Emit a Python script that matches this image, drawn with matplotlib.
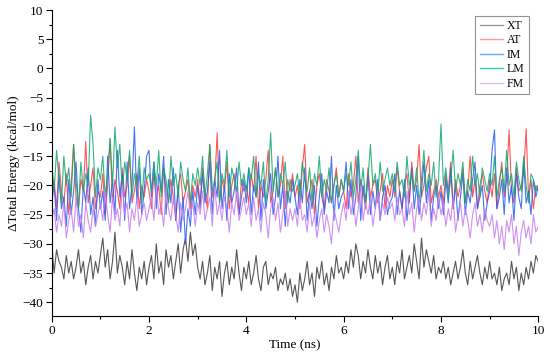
import numpy as np
import matplotlib
matplotlib.use("Agg")
import matplotlib.pyplot as plt
from matplotlib.ticker import MultipleLocator
from matplotlib.lines import Line2D

series_names = ["XT", "AT", "IM", "LM", "FM"]

XT = [-30, -35, -31, -33, -34, -36, -32, -35, -33, -36, -34, -31, -35, -33, -37, -34, -32, -36, -33, -35,
      -32, -29, -34, -31, -36, -33, -28, -35, -32, -34, -37, -33, -36, -31, -35, -38, -34, -36, -33, -37,
      -34, -32, -36, -30, -35, -33, -37, -31, -34, -32, -36, -33, -30, -35, -31, -29, -33, -28, -32, -30,
      -34, -36, -33, -37, -35, -32, -38, -34, -36, -33, -39, -35, -33, -37, -34, -36, -31, -35, -38, -34,
      -36, -33, -37, -35, -32, -36, -38, -34, -33, -37, -35, -36, -34, -38, -36, -37, -35, -38, -36, -39,
      -37, -40, -35, -38, -36, -33, -37, -35, -39, -34, -36, -33, -37, -35, -38, -34, -36, -32, -35, -34,
      -36, -33, -35, -31, -34, -30, -32, -36, -33, -35, -31, -34, -36, -32, -35, -33, -37, -34, -32, -36,
      -34, -37, -33, -35, -31, -36, -34, -32, -35, -30, -33, -36, -29, -34, -31, -33, -35, -32, -36, -34,
      -35, -33, -36, -34, -37, -35, -33, -36, -34, -31, -35, -37, -33, -36, -34, -32, -35, -37, -34, -36,
      -33, -36, -35, -37, -34, -38, -36, -35, -37, -33, -36, -34, -38, -35, -37, -34, -36, -33, -35, -32, -33]

AT = [-22, -19, -24, -16, -21, -23, -18, -25, -20, -13, -22, -24, -19, -21, -12.5, -23, -20, -17, -24, -21,
      -22, -18, -25, -20, -12, -23, -19, -21, -24, -17, -22, -20, -15, -23, -21, -18, -24, -20, -22, -19,
      -21, -24, -18, -22, -20, -25, -17, -21, -23, -19, -22, -26, -20, -18, -23, -21, -19, -24, -20, -22,
      -19, -23, -17, -21, -24, -13, -22, -20, -11, -23, -19, -21, -16, -24, -20, -18, -22, -25, -19, -21,
      -20, -23, -18, -21, -15, -24, -20, -22, -19, -14, -23, -21, -17, -22, -20, -15, -24, -19, -21, -18,
      -22, -20, -24, -17, -13, -23, -21, -19, -25, -20, -18, -22, -24, -19, -21, -23, -20, -17, -22, -19,
      -21, -24, -18, -22, -20, -15, -23, -19, -21, -24, -17, -22, -20, -19, -23, -21, -18, -24, -20, -22,
      -19, -22, -17, -21, -24, -20, -18, -23, -16, -21, -19, -13, -22, -20, -17, -15, -23, -21, -19, -22,
      -20, -23, -18, -21, -16, -24, -19, -22, -20, -17, -23, -21, -15, -22, -19, -24, -20, -18, -21, -23,
      -19, -22, -18, -24, -20, -16, -22, -19, -10.5, -21, -23, -17, -21, -20, -18, -10.3, -22, -19, -24, -20, -21]

IM = [-23, -20, -26, -18, -24, -22, -27, -19, -25, -21, -16, -24, -28, -20, -23, -17, -25, -22, -27, -19,
      -24, -21, -26, -15, -23, -19, -25, -14, -22, -18, -26, -16, -24, -20, -10, -23, -17, -25, -21, -15,
      -14, -22, -16, -24, -18, -21, -15, -25, -19, -23, -17, -26, -20, -28, -22, -30, -24, -27, -21, -25,
      -20, -24, -18, -23, -21, -16, -25, -19, -22, -14, -24, -20, -26, -18, -23, -21, -17, -25, -22, -19,
      -23, -17, -25, -20, -22, -16, -26, -19, -24, -21, -18, -25, -22, -15, -24, -20, -27, -21, -23, -19,
      -22, -25, -19, -23, -17, -26, -21, -24, -20, -27, -22, -18, -25, -21, -23, -15, -26, -20, -24, -22,
      -21, -16, -24, -19, -25, -22, -15, -26, -20, -23, -18, -25, -21, -24, -19, -26, -22, -20, -25, -23,
      -22, -18, -25, -21, -24, -19, -26, -22, -17, -24, -20, -25, -21, -16, -23, -19, -26, -22, -20, -24,
      -21, -25, -19, -23, -17, -24, -20, -26, -22, -18, -25, -21, -23, -19, -16, -24, -22, -20, -26, -23,
      -21, -14, -10.5, -24, -22, -19, -25, -17, -23, -20, -26, -18, -22, -24, -16, -23, -21, -25, -19, -22, -20]

LM = [-16, -21, -14, -19, -23, -15, -20, -17, -22, -13, -19, -24, -16, -21, -18, -20, -8, -13, -22, -17,
      -19, -15, -22, -18, -12, -20, -10, -17, -13, -21, -16, -19, -14, -22, -18, -20, -15, -23, -17, -19,
      -18, -21, -16, -20, -14, -22, -17, -19, -23, -15, -20, -18, -22, -16, -19, -21, -17, -23, -18, -20,
      -17, -20, -15, -22, -18, -13, -21, -19, -16, -23, -18, -20, -14, -22, -17, -19, -21, -16, -20, -18,
      -21, -17, -19, -15, -22, -18, -20, -16, -23, -19, -11, -21, -17, -22, -18, -20, -16, -23, -19, -21,
      -20, -18, -22, -16, -19, -21, -17, -23, -18, -20, -15, -22, -19, -21, -17, -23, -20, -18, -22, -19,
      -21, -18, -20, -16, -22, -19, -14, -21, -17, -23, -19, -13, -20, -18, -22, -16, -21, -19, -17, -20,
      -18, -21, -16, -20, -19, -22, -15, -20, -18, -21, -17, -23, -19, -14, -21, -18, -20, -16, -22, -19,
      -9.5, -20, -17, -22, -19, -14, -21, -18, -20, -16, -23, -19, -21, -15, -20, -18, -22, -17, -19, -21,
      -18, -20, -15, -22, -19, -17, -21, -14, -20, -18, -22, -16, -19, -21, -15, -20, -23, -18, -19, -21, -20]

FM = [-26, -24, -28, -25, -27, -23, -29, -26, -24, -28, -22, -27, -25, -29, -23, -26, -28, -24, -27, -25,
      -23, -26, -21, -25, -28, -22, -26, -24, -27, -20, -25, -23, -28, -24, -26, -22, -27, -25, -23, -26,
      -24, -22, -26, -20, -25, -23, -27, -21, -24, -26, -22, -25, -28, -23, -26, -24, -21, -25, -23, -27,
      -23, -25, -21, -26, -24, -22, -27, -20, -25, -23, -26, -22, -24, -28, -23, -25, -21, -26, -24, -22,
      -25, -23, -27, -22, -26, -24, -28, -23, -25, -29, -24, -22, -26, -23, -28, -25, -21, -27, -24, -26,
      -24, -27, -22, -26, -25, -28, -23, -27, -25, -29, -26, -24, -28, -25, -27, -30, -24, -26, -28, -25,
      -23, -26, -21, -25, -22, -27, -24, -20, -26, -23, -25, -22, -27, -24, -21, -26, -23, -25, -22, -24,
      -23, -26, -22, -25, -24, -27, -21, -25, -23, -28, -24, -22, -26, -23, -25, -21, -27, -24, -26, -22,
      -25, -23, -27, -24, -26, -22, -28, -25, -23, -27, -24, -26, -29, -25, -23, -27, -25, -28, -24, -26,
      -27, -25, -29, -26, -30, -27, -31, -26, -28, -25, -30, -27, -32, -28, -26, -29, -27, -30, -25, -28, -27]

colors = ["#3a3a3a", "#ff3a3a", "#2a5cf0", "#12a870", "#c77ef0"]
legend_colors = ["#9a9a9a", "#ff9a9a", "#6aa8f0", "#33d699", "#e3b8f0"]

plt.rcParams['font.family'] = ['Liberation Serif', 'DejaVu Serif']

fig = plt.figure(figsize=(5.5, 3.64), dpi=100)
ax = fig.add_axes([0.094, 0.131, 0.8847, 0.8415])

data = [XT, AT, IM, LM, FM]
for name, vals, c in zip(series_names, data, colors):
    t = np.linspace(0, 10, len(vals))
    ax.plot(t, vals, color=c, lw=0.8, alpha=0.85)

ax.set_xlim(0, 10)
ax.set_ylim(-42.4, 10)
ax.xaxis.set_major_locator(MultipleLocator(2))
ax.xaxis.set_minor_locator(MultipleLocator(1))
ax.yaxis.set_minor_locator(MultipleLocator(2.5))
ax.set_yticks(np.arange(-40, 11, 5))
ax.set_yticklabels([f"{v}".replace("-", "\u2212") for v in range(-40, 11, 5)])
ax.spines['top'].set_visible(False)
ax.spines['right'].set_visible(False)
ax.tick_params(axis='both', which='major', direction='out', length=4, width=0.8, labelsize=9.5, pad=2)
ax.tick_params(axis='both', which='minor', direction='out', length=2.5, width=0.8)
ax.set_xlabel("Time (ns)", fontsize=9.5, labelpad=2)
ax.set_ylabel("\u0394Total Energy (kcal/mol)", fontsize=9.5, labelpad=2)

handles = [Line2D([0], [0], color=c, lw=1.0) for c in legend_colors]
leg = ax.legend(handles, series_names, loc='upper right', bbox_to_anchor=(0.98, 0.982),
                fontsize=8.5, frameon=True, fancybox=False, handlelength=2.0,
                handletextpad=0.3, borderpad=0.35, labelspacing=0.22, borderaxespad=0)
leg.get_frame().set_edgecolor('#777777')
leg.get_frame().set_linewidth(0.8)

fig.savefig("out.png", dpi=100)
